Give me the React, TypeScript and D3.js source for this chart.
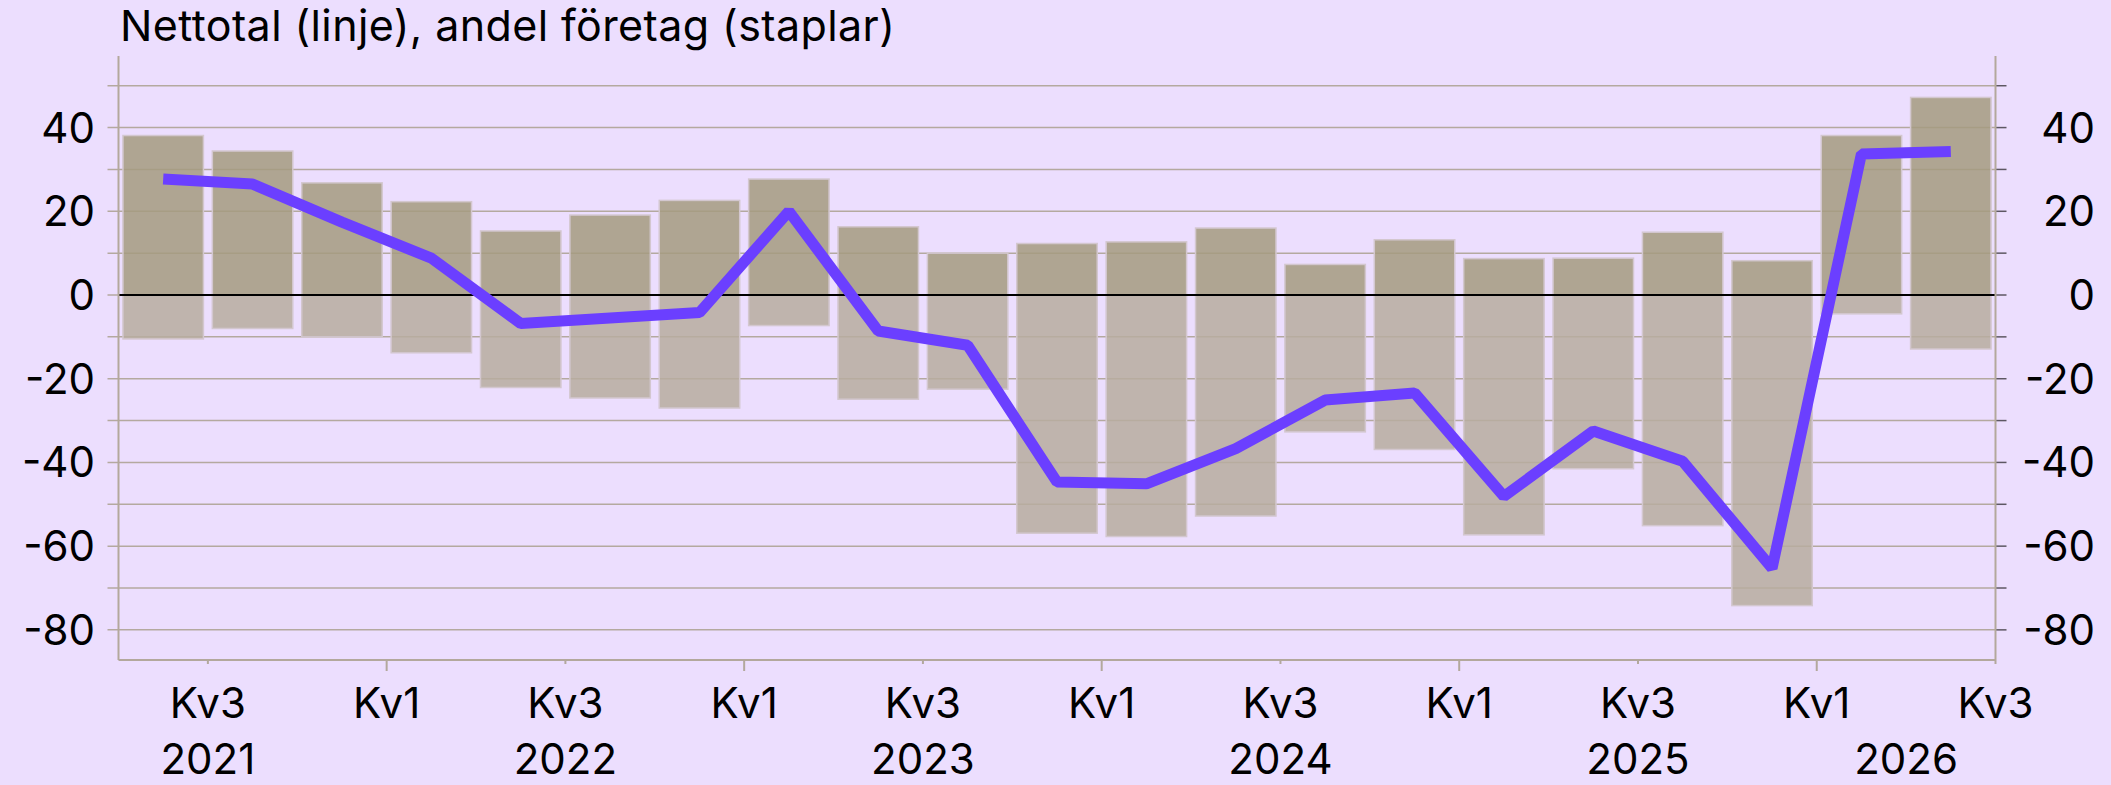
import * as d3 from "d3"

// kvartal, från 2021 Kv2 till 2026 Kv2
const quarters = [
  "2021 Kv2", "2021 Kv3", "2021 Kv4",
  "2022 Kv1", "2022 Kv2", "2022 Kv3", "2022 Kv4",
  "2023 Kv1", "2023 Kv2", "2023 Kv3", "2023 Kv4",
  "2024 Kv1", "2024 Kv2", "2024 Kv3", "2024 Kv4",
  "2025 Kv1", "2025 Kv2", "2025 Kv3", "2025 Kv4",
  "2026 Kv1", "2026 Kv2",
]
// andel företag som svarar ökning (staplar upp) resp. minskning (staplar ner)
const andelUpp = [38.1, 34.4, 26.8, 22.3, 15.3, 19.1, 22.6, 27.7, 16.3, 10.0, 12.3, 12.7, 16.0, 7.3, 13.2, 8.7, 8.8, 15.0, 8.2, 38.1, 47.2]
const andelNer = [-10.5, -8.0, -10.0, -13.8, -22.1, -24.6, -27.0, -7.3, -24.9, -22.5, -56.9, -57.7, -52.8, -32.7, -36.9, -57.3, -41.5, -55.1, -74.2, -4.5, -12.9]
// nettotal (linje)
const nettotal = [27.7, 26.5, 17.4, 8.8, -6.8, -5.5, -4.2, 20.0, -8.6, -12.0, -44.7, -45.1, -36.7, -25.1, -23.4, -48.1, -32.5, -39.7, -65.3, 33.7, 34.3]

const yTickLabels = [40, 20, 0, -20, -40, -60, -80]
const yGrid = [50, 40, 30, 20, 10, 0, -10, -20, -30, -40, -50, -60, -70, -80]
// tick i kvartalsgränser (index = kvartalets start)
const xTickPos = [1, 3, 5, 7, 9, 11, 13, 15, 17, 19, 21]
const xTickLabels = ["Kv3", "Kv1", "Kv3", "Kv1", "Kv3", "Kv1", "Kv3", "Kv1", "Kv3", "Kv1", "Kv3"]
const yearLabels = ["2021", "2022", "2023", "2024", "2025", "2026"]
const yearPos = [1, 5, 9, 13, 17, 20]

const W = 2111
const H = 785
const M = { left: 118.5, right: 115.5, top: 56, bottom: 125 }
const FONT = "Inter, 'Noto Sans', sans-serif"
const BG = "#ecdefe"
const GRID = "#b4a99f"
const AXIS = "#b3a89c"

export default function App() {
  const x = d3.scaleLinear().domain([0, quarters.length]).range([M.left, W - M.right])
  const y = d3.scaleLinear().domain([-87.2, 57.1]).range([H - M.bottom, M.top])
  const step = x(1) - x(0)
  const barW = step * 0.9
  const line = d3.line<number>()
    .x((_, i) => x(i + 0.5))
    .y((d) => y(d))

  return (
    <div style={{ position: "absolute", left: 0, top: 0, width: W, height: H }}>
      <svg width={W} height={H} style={{ display: "block" }} fontFamily={FONT}>
        <rect width={W} height={H} fill={BG} />
        <text x={120} y={41} fontSize={43} letterSpacing={0.4} fill="#000">
          Nettotal (linje), andel företag (staplar)
        </text>

        {/* stödlinjer */}
        {yGrid.map((v) => (
          <line key={v} x1={M.left - 11} x2={W - M.right} y1={y(v)} y2={y(v)}
            stroke={GRID} strokeWidth={1.5} />
        ))}
        {yGrid.map((v) => (
          <line key={"r" + v} x1={W - M.right} x2={W - M.right + 11} y1={y(v)} y2={y(v)}
            stroke="#5d5762" strokeWidth={1.5} />
        ))}

        {/* staplar */}
        {quarters.map((q, i) => (
          <g key={q}>
            <rect x={x(i) + step * 0.05} width={barW} y={y(andelUpp[i])}
              height={y(0) - y(andelUpp[i])}
              fill="#a59b7f" fillOpacity={0.85} stroke="#d3c7cf" strokeWidth={1.5} />
            <rect x={x(i) + step * 0.05} width={barW} y={y(0)}
              height={y(andelNer[i]) - y(0)}
              fill="#b7ad9f" fillOpacity={0.85} stroke="#d3c7cf" strokeWidth={1.5} />
          </g>
        ))}

        <line x1={M.left} x2={W - M.right} y1={y(0)} y2={y(0)} stroke="#000" strokeWidth={2} />

        <path d={line(nettotal) ?? ""} fill="none" stroke="#6b3fff" strokeWidth={11}
          strokeLinejoin="bevel" strokeLinecap="butt" />

        {/* axlar */}
        <line x1={M.left} x2={M.left} y1={M.top} y2={H - M.bottom} stroke={AXIS} strokeWidth={2} />
        <line x1={W - M.right} x2={W - M.right} y1={M.top} y2={H - M.bottom} stroke={AXIS} strokeWidth={2} />
        <line x1={M.left} x2={W - M.right} y1={H - M.bottom} y2={H - M.bottom} stroke={AXIS} strokeWidth={2} />

        {yTickLabels.map((v) => (
          <g key={"yl" + v} fontSize={42} textAnchor="end">
            <text x={95} y={y(v) + 15}>{v}</text>
            <text x={2095} y={y(v) + 15}>{v}</text>
          </g>
        ))}

        {xTickPos.map((p, i) => (
          <g key={"xt" + p}>
            <line x1={x(p)} x2={x(p)} y1={H - M.bottom} y2={H - M.bottom + (xTickLabels[i] === "Kv1" ? 11 : 4)}
              stroke={AXIS} strokeWidth={2} />
            <text x={x(p)} y={718} fontSize={42} textAnchor="middle">{xTickLabels[i]}</text>
          </g>
        ))}
        {yearLabels.map((yr, i) => (
          <text key={yr} x={x(yearPos[i])} y={774} fontSize={42} textAnchor="middle">{yr}</text>
        ))}
      </svg>
    </div>
  )
}
